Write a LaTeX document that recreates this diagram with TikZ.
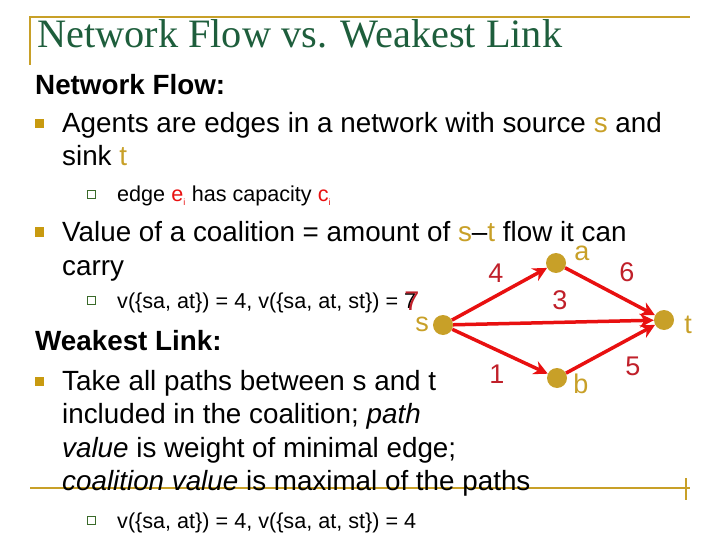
\documentclass[tikz,border=0pt]{standalone}
\usetikzlibrary{arrows.meta}
\usepackage{fontspec}
\setmainfont{Liberation Sans}
\newfontfamily\ttlfont{Liberation Serif}
\definecolor{gold}{HTML}{C8A028}
\definecolor{ttl}{HTML}{1E5E3C}
\definecolor{edg}{HTML}{E81010}
\definecolor{num}{HTML}{C0202A}
\definecolor{bul}{HTML}{C89A10}
\definecolor{sbul}{HTML}{3A6A2A}
\begin{document}
\begin{tikzpicture}[x=1pt,y=-1pt,
  txt/.style={anchor=base west,inner sep=0pt,font=\fontsize{27.8}{30}\selectfont},
  sub/.style={anchor=base west,inner sep=0pt,font=\fontsize{21.6}{24}\selectfont},
  bull/.style={fill=bul,minimum size=9pt,inner sep=0pt},
  sbull/.style={draw=sbul,line width=0.8pt,minimum size=8pt,inner sep=0pt},
  dot/.style={circle,fill=gold,minimum size=20pt,inner sep=0pt},
  lab/.style={text=gold,font=\fontsize{27}{30}\selectfont,inner sep=0pt},
  nl/.style={text=num,font=\fontsize{27}{30}\selectfont,inner sep=0pt},
  edge/.style={edg,line width=3.5pt,-{Stealth[length=14pt,width=14pt]}}]
\useasboundingbox (0,0) rectangle (720,540);
\draw[gold,line width=1.5pt] (30,65) -- (30,17) -- (690,17);
\draw[gold,line width=1.5pt] (30,488) -- (690,488);
\draw[gold,line width=1.2pt] (686,478) -- (686,500);
\node[anchor=base west,inner sep=0pt,text=ttl,font=\ttlfont\fontsize{40.3}{44}\selectfont] (title) at (37,48) {Network Flow vs. Weakest Link};
\node[txt,font=\bfseries\fontsize{27.8}{30}\selectfont] (h1) at (35,95) {Network Flow:};
\node[bull] (b1) at (39,124) {};
\node[txt] (l1) at (62,133) {Agents are edges in a network with source \textcolor{gold}{s} and};
\node[txt] (l2) at (62,166) {sink \textcolor{gold}{t}};
\node[sbull] (sb1) at (91,194) {};
\node[sub] (l3) at (117,202) {edge \textcolor{edg}{e\textsubscript{\fontsize{9}{9}\selectfont i}} has capacity \textcolor{edg}{c\textsubscript{\fontsize{9}{9}\selectfont i}}};
\node[bull] (b2) at (39,232) {};
\node[txt] (l4) at (62,241) {Value of a coalition = amount of \textcolor{gold}{s}–\textcolor{gold}{t} flow it can};
\node[txt] (l5) at (62,275) {carry};
\node[sbull] (sb2) at (91,300) {};
\node[sub] (l6) at (117,308) {v(\{sa, at\}) = 4, v(\{sa, at, st\}) = 7};
\node[txt,font=\bfseries\fontsize{27.8}{30}\selectfont] (h2) at (35,350) {Weakest Link:};
\node[bull] (b3) at (39,381) {};
\node[txt] (l7) at (62,390) {Take all paths between s and t};
\node[txt] (l8) at (62,423) {included in the coalition; \textit{path}};
\node[txt] (l9) at (62,457) {\textit{value} is weight of minimal edge;};
\node[txt] (l10) at (62,490) {\textit{coalition value} is maximal of the paths};
\node[sbull] (sb3) at (91,520) {};
\node[sub] (l11) at (117,528) {v(\{sa, at\}) = 4, v(\{sa, at, st\}) = 4};
% graph
\node[dot] (s) at (443,325) {};
\node[dot] (a) at (556,263) {};
\node[dot] (b) at (557,378) {};
\node[dot] (t) at (664,320) {};
\node[lab] at (422,324) {s};
\node[lab] at (582,253) {a};
\node[lab] at (581,384) {b};
\node[lab] at (688,325) {t};
\draw[edge] (s) -- (a);
\draw[edge] (s) -- (b);
\draw[edge] (s) -- (t);
\draw[edge] (a) -- (t);
\draw[edge] (b) -- (t);
\node[nl] at (496,273) {4};
\node[nl] at (627,272) {6};
\node[nl] at (560,300) {3};
\node[nl] at (412,301) {7};
\node[nl] at (497,374) {1};
\node[nl] at (633,366) {5};
\end{tikzpicture}
\end{document}
